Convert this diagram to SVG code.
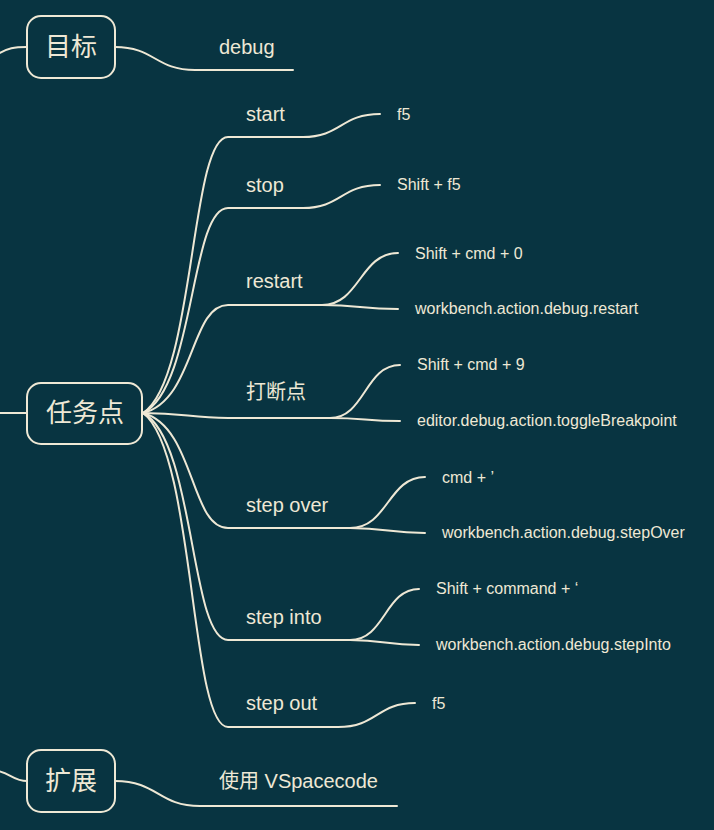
<svg xmlns="http://www.w3.org/2000/svg" width="714" height="830" viewBox="0 0 714 830">
<style>
.bg{fill:#083441}
.ln{fill:none;stroke:#eee8d5;stroke-width:2;stroke-linecap:round}
.box{fill:#083441;stroke:#eee8d5;stroke-width:2}
.root{font-family:"Noto Sans CJK SC","Liberation Sans",sans-serif;font-size:26px;fill:#eee8d5;text-anchor:middle}
.c{font-family:"Liberation Sans","Noto Sans CJK SC",sans-serif;font-size:20px;fill:#eee8d5}
.g{font-family:"Liberation Sans",sans-serif;font-size:16px;fill:#eee8d5}
</style>
<rect class="bg" x="0" y="0" width="714" height="830"/>
<g id="connectors">
<path class="ln" d="M-2,54 C8,48 14,47 27,47"/>
<path class="ln" d="M115,47 C155,47 155,70 195,70 L293,70"/>
<path class="ln" d="M-2,413 L27,413"/>
<path class="ln" d="M-2,771 C10,773 14,781 27,781"/>
<path class="ln" d="M115,781 C158,781 158,806 200,806 L397,806"/>
<path class="ln" d="M143,413 C195,380 190,137 228,137 L303,137"/>
<path class="ln" d="M143,413 C195,388 190,208 228,208 L303,208"/>
<path class="ln" d="M143,413 C195,400 190,305 228,305 L322,305"/>
<path class="ln" d="M143,413 C185,413 190,418 228,418 L330,418"/>
<path class="ln" d="M143,413 C195,427 190,528 228,528 L350,528"/>
<path class="ln" d="M143,413 C195,440 190,640 228,640 L350,640"/>
<path class="ln" d="M143,413 C195,451 190,727 228,727 L338,727"/>
<path class="ln" d="M303,137 C341,137 341,114 380,114"/>
<path class="ln" d="M303,208 C341,208 341,185 380,185"/>
<path class="ln" d="M322,305 C360,305 360,253 398,253"/>
<path class="ln" d="M322,305 C360,305 360,309 398,309"/>
<path class="ln" d="M330,418 C365,418 365,365 400,365"/>
<path class="ln" d="M330,418 C365,418 365,421 400,421"/>
<path class="ln" d="M350,528 C388,528 388,477 425,477"/>
<path class="ln" d="M350,528 C388,528 388,533 425,533"/>
<path class="ln" d="M350,640 C385,640 385,589 419,589"/>
<path class="ln" d="M350,640 C385,640 385,645 419,645"/>
<path class="ln" d="M338,727 C377,727 377,703 415,703"/>
</g>
<g id="node-mubiao"><rect class="box" x="27" y="16" width="88" height="62" rx="14"/><text class="root" x="71" y="56">目标</text></g>
<g id="node-renwudian"><rect class="box" x="27" y="383" width="115" height="61" rx="14"/><text class="root" x="85" y="422">任务点</text></g>
<g id="node-kuozhan"><rect class="box" x="27" y="750" width="88" height="62" rx="14"/><text class="root" x="71" y="790">扩展</text></g>
<g id="node-debug"><text class="c" x="219" y="54">debug</text></g>
<g id="node-start"><text class="c" x="246" y="121">start</text></g>
<g id="node-stop"><text class="c" x="246" y="192">stop</text></g>
<g id="node-restart"><text class="c" x="246" y="288">restart</text></g>
<g id="node-breakpoint"><text class="c" x="246" y="399">打断点</text></g>
<g id="node-stepover"><text class="c" x="246" y="512">step over</text></g>
<g id="node-stepinto"><text class="c" x="246" y="624">step into</text></g>
<g id="node-stepout"><text class="c" x="246" y="710">step out</text></g>
<g id="node-vspacecode"><text class="c" x="219" y="788">使用 VSpacecode</text></g>
<g id="node-start-f5"><text class="g" x="397" y="120">f5</text></g>
<g id="node-stop-key"><text class="g" x="397" y="190">Shift + f5</text></g>
<g id="node-restart-key"><text class="g" x="415" y="259">Shift + cmd + 0</text></g>
<g id="node-restart-cmd"><text class="g" x="415" y="314">workbench.action.debug.restart</text></g>
<g id="node-bp-key"><text class="g" x="417" y="370">Shift + cmd + 9</text></g>
<g id="node-bp-cmd"><text class="g" x="417" y="426">editor.debug.action.toggleBreakpoint</text></g>
<g id="node-over-key"><text class="g" x="442" y="483">cmd + ’</text></g>
<g id="node-over-cmd"><text class="g" x="442" y="538">workbench.action.debug.stepOver</text></g>
<g id="node-into-key"><text class="g" x="436" y="594">Shift + command + ‘</text></g>
<g id="node-into-cmd"><text class="g" x="436" y="650">workbench.action.debug.stepInto</text></g>
<g id="node-out-f5"><text class="g" x="432" y="709">f5</text></g>
</svg>
